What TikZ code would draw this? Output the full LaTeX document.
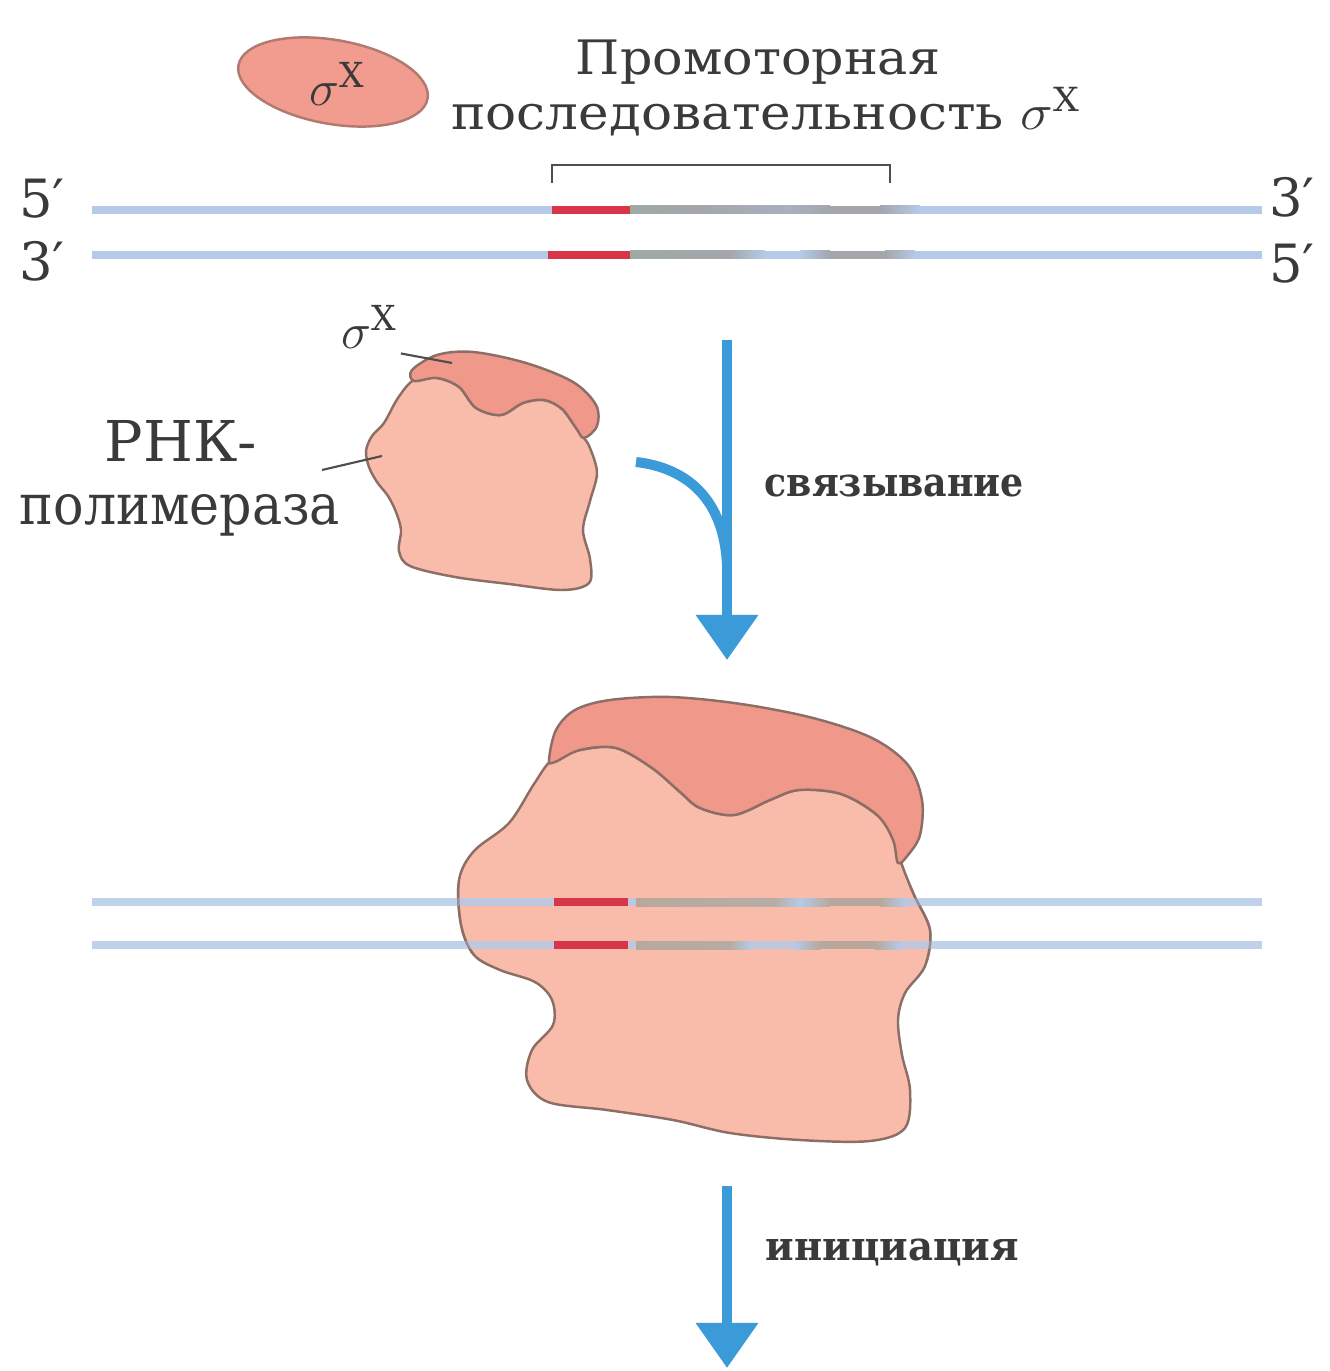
\documentclass[tikz,border=0pt]{standalone}
\usepackage{fontspec}
\setmainfont{DejaVu Serif}
\usetikzlibrary{arrows.meta}
% stretch a text horizontally to a given width, keeping its height
\newcommand\stretchto[2]{\resizebox{#1}{\height}{#2}}
\definecolor{inkgray}{HTML}{3A3A3A}
\definecolor{protbody}{HTML}{F9BCAA}
\definecolor{protcap}{HTML}{F0988A}
\definecolor{protline}{HTML}{8C6E66}
\definecolor{sigmafill}{HTML}{F29B8F}
\definecolor{sigmaline}{HTML}{B07A70}
\definecolor{dnablue}{HTML}{B4CAE8}
\definecolor{promred}{HTML}{D8344A}
\definecolor{promgray}{HTML}{A4A6AC}
\definecolor{promgreen}{HTML}{9EAAA4}
\definecolor{promtan}{HTML}{B8A89C}
\definecolor{flowblue}{HTML}{3B9AD8}
\begin{document}
\begin{tikzpicture}[x=0.01cm,y=-0.01cm,
  lbl/.style={inner sep=0pt, text=inkgray},
  smalllbl/.style={inner sep=0pt, text=inkgray, font=\fontsize{11.5}{14}\selectfont\bfseries},
  endlbl/.style={inner sep=0pt, text=inkgray, font=\fontsize{15}{18}\selectfont, anchor=base},
  strand/.style={draw=dnablue, line width=2.3pt},
  protout/.style={draw=protline, line width=0.7pt},
  leader/.style={draw=inkgray!90, line width=0.6pt},
  flow/.style={draw=flowblue, line width=2.85pt},
  flowtip/.style={-{Triangle[length=0.45cm,width=0.6cm]}}
]
\useasboundingbox (0,0) rectangle (1329,1371);
\fill[white] (0,0) rectangle (1329,1371);

% ---------- free sigma factor ----------
\draw[fill=sigmafill, draw=sigmaline, line width=0.7pt, rotate around={-10:(333,82)}]
  (333,82) ellipse [x radius=96, y radius=42];
\node[lbl, font=\fontsize{14}{16}\selectfont] (sigfree) at (338,84) {$\sigma^{\mathrm{X}}$};

% ---------- promoter caption ----------
\node[lbl, anchor=base, font=\fontsize{13.5}{16}\selectfont] (promo1) at (758,75)
  {\stretchto{3.64cm}{Промоторная}};
\node[lbl, anchor=base, font=\fontsize{13.5}{16}\selectfont] (promo2) at (766,130)
  {\stretchto{6.29cm}{последовательность $\sigma^{\mathrm{X}}$}};
\draw[draw=inkgray!90, line width=0.8pt] (552,183) -- (552,165) -- (890,165) -- (890,183);

% ---------- free DNA ----------
\node[endlbl] (l5) at (42,218) {5′};
\node[endlbl] (l3) at (42,281) {3′};
\node[endlbl] (r3) at (1292,217) {3′};
\node[endlbl] (r5) at (1292,283) {5′};
\coordinate (ta) at (92,210);  \coordinate (tb) at (1262,210);
\coordinate (ba) at (92,255);  \coordinate (bb) at (1262,255);
\draw[strand] (ta) -- (tb);
\draw[strand] (ba) -- (bb);
% coding strand promoter
\fill[promred] (552,206) rectangle (630,214);
\shade[left color=promgreen, right color=promgray] (630,206) rectangle (700,214);
\shade[left color=promgray, right color=promgray!70!dnablue] (700,206) rectangle (790,214);
\shade[left color=promgray!70!dnablue, right color=promgray] (790,206) rectangle (830,214);
\fill[promgray] (830,206) rectangle (880,214);
\shade[left color=promgray, right color=dnablue] (880,206) rectangle (920,214);
% template strand promoter
\fill[promred] (548,251) rectangle (630,259);
\shade[left color=promgreen, right color=promgray] (630,251) rectangle (730,259);
\shade[left color=promgray, right color=dnablue] (730,251) rectangle (765,259);
\shade[left color=dnablue, right color=promgray] (800,251) rectangle (830,259);
\fill[promgray] (830,251) rectangle (885,259);
\shade[left color=promgray, right color=dnablue] (885,251) rectangle (915,259);

% ---------- free RNA polymerase with sigma ----------
\draw[protout, fill=protbody] plot[smooth cycle, tension=0.55] coordinates {
  (414,380) (398,398) (384,423) (372,436) (366,451) (369,467) (377,482) (388,496)
  (396,512) (401,530) (399,551) (410,566) (455,577) (509,584) (562,590)
  (589,583) (590,559) (583,530) (590,501) (597,473) (590,448) (584,438)
  (576,428) (562,409) (544,400) (523,403) (501,415) (476,408) (459,387) (437,378)};
\draw[protout, fill=protcap] plot[smooth cycle, tension=0.55] coordinates {
  (412,370) (437,355) (473,352) (526,363) (573,382) (596,405) (597,426) (584,438)
  (576,428) (562,409) (544,400) (523,403) (501,415) (476,408) (459,387) (437,378) (414,381)};
\node[lbl, font=\fontsize{14}{16}\selectfont] (sigsmall) at (370,327) {$\sigma^{\mathrm{X}}$};
\coordinate (sigtip) at (452,363);
\draw[leader] (sigsmall.south east) ++(2,4) -- (sigtip);
\node[lbl, anchor=base, font=\fontsize{16}{19}\selectfont] (rnk1) at (181,462)
  {\stretchto{1.52cm}{РНК-}};
\node[lbl, anchor=base, font=\fontsize{16}{19}\selectfont] (rnk2) at (180,525)
  {\stretchto{3.20cm}{полимераза}};
\coordinate (poltip) at (382,456);
\draw[leader] (322,470) -- (poltip);

% ---------- binding arrow ----------
\coordinate (a1top) at (727,340);
\coordinate (a1tip) at (727,660);
\coordinate (brstart) at (636,462);
\coordinate (a1join) at (727,565);
\draw[flow] (brstart) .. controls (688,468) and (724,500) .. (a1join);
\draw[flow, flowtip] (a1top) -- (a1tip);
\node[smalllbl, anchor=base west] (bind) at (764,497) {\stretchto{2.59cm}{связывание}};

% ---------- closed complex on the promoter ----------
\path[save path=\bigbody] plot[smooth cycle, tension=0.55] coordinates {
  (552,760) (534,784) (509,823) (474,851) (459,880) (461,925) (474,955) (500,970)
  (535,982) (552,1000) (553,1025) (532,1050) (527,1080) (548,1102) (607,1110)
  (673,1120) (730,1133) (800,1140) (870,1141) (905,1128) (910,1090) (902,1055)
  (898,1020) (905,993) (925,966) (930,930) (914,895) (902,865) (895,840)
  (877,815) (841,794) (799,790) (770,800) (734,815) (700,808) (680,792)
  (652,768) (616,748) (580,750)};
\draw[protout, fill=protbody, use path=\bigbody];
\draw[protout, fill=protcap] plot[smooth cycle, tension=0.55] coordinates {
  (549,760) (556,730) (575,710) (610,700) (670,697) (741,704) (813,718) (872,738)
  (908,765) (922,800) (920,835) (908,855) (898,863)
  (893,840) (877,815) (841,794) (799,790) (770,800) (734,815) (700,808)
  (680,792) (652,768) (616,748) (580,750) (555,762)};

\coordinate (tc) at (92,902);  \coordinate (td) at (1262,902);
\coordinate (bc) at (92,945);  \coordinate (bd) at (1262,945);
\begin{scope}[opacity=0.85]
\draw[strand] (tc) -- (td);
\draw[strand] (bc) -- (bd);
\end{scope}
\fill[promred] (554,898) rectangle (628,906);
\shade[left color=promtan, right color=promtan!85!dnablue] (636,898) rectangle (775,906);
\shade[left color=promtan!85!dnablue, right color=dnablue] (775,898) rectangle (800,906);
\shade[left color=dnablue, right color=promtan] (800,898) rectangle (830,906);
\fill[promtan] (830,898) rectangle (880,906);
\shade[left color=promtan, right color=dnablue] (880,898) rectangle (905,906);
\fill[promred] (554,941) rectangle (628,949);
\shade[left color=promtan, right color=promtan!90!dnablue] (636,941) rectangle (730,949);
\shade[left color=promtan!90!dnablue, right color=dnablue] (730,941) rectangle (750,949);
\shade[left color=dnablue, right color=promtan] (795,941) rectangle (820,949);
\fill[promtan] (820,941) rectangle (875,949);
\shade[left color=promtan, right color=dnablue] (875,941) rectangle (900,949);
% protein outline seen through the DNA
\begin{scope}
\clip (0,885) rectangle (1329,962);
\draw[protout, draw opacity=0.6, use path=\bigbody];
\end{scope}

% ---------- initiation arrow ----------
\coordinate (a2top) at (727,1186);
\coordinate (a2tip) at (727,1368);
\draw[flow, flowtip] (a2top) -- (a2tip);
\node[smalllbl, anchor=base west] (init) at (765,1260) {\stretchto{2.53cm}{инициация}};
\end{tikzpicture}
\end{document}
